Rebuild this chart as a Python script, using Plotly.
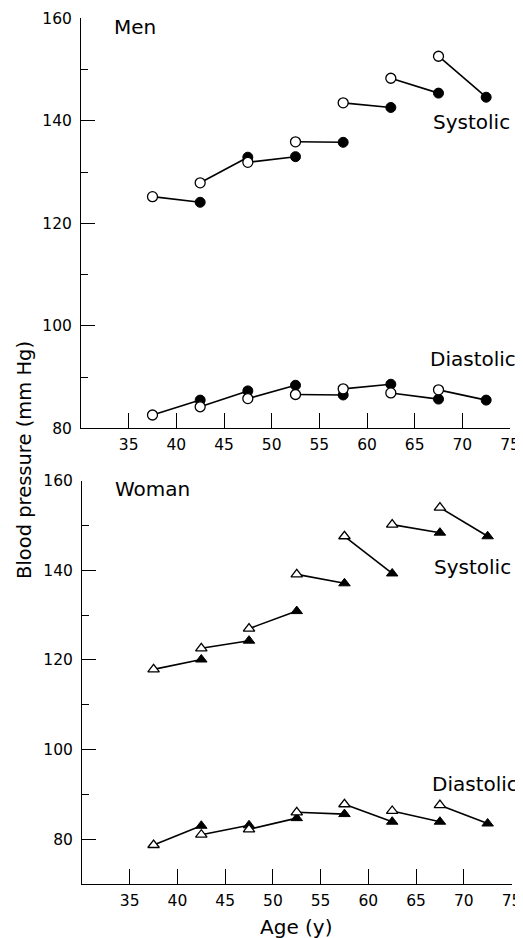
import plotly.graph_objects as go

# ---- data ----
ages_open = [37.5, 42.5, 47.5, 52.5, 57.5, 62.5, 67.5]
ages_filled = [42.5, 47.5, 52.5, 57.5, 62.5, 67.5, 72.5]

men_sys_open = [125.2, 127.9, 131.9, 135.9, 143.5, 148.3, 152.6]
men_sys_filled = [124.1, 132.9, 133.0, 135.8, 142.6, 145.4, 144.6]
men_dia_open = [82.6, 84.2, 85.8, 86.6, 87.7, 86.9, 87.5]
men_dia_filled = [85.5, 87.3, 88.4, 86.5, 88.6, 85.7, 85.5]

women_sys_open = [117.9, 122.6, 127.0, 139.1, 147.6, 150.2, 154.0]
women_sys_filled = [120.1, 124.3, 130.9, 137.1, 139.3, 148.4, 147.6]
women_dia_open = [78.7, 81.0, 82.2, 86.0, 87.8, 86.3, 87.6]
women_dia_filled = [83.0, 83.1, 84.7, 85.6, 83.9, 83.9, 83.5]

x_ticks = [35, 40, 45, 50, 55, 60, 65, 70, 75]
y_ticks = [80, 100, 120, 140, 160]
y_minor_ticks = [90, 110, 130, 150]

FONT = "DejaVu Sans"
INK = "#000000"

fig = go.Figure()


def add_series(open_vals, filled_vals, symbol, xa, ya):
    xs, ys = [], []
    for xo, yo, xf, yf in zip(ages_open, open_vals, ages_filled, filled_vals):
        xs += [xo, xf, None]
        ys += [yo, yf, None]
    fig.add_trace(go.Scatter(x=xs, y=ys, mode="lines", xaxis=xa, yaxis=ya,
                             line=dict(color=INK, width=1.6), showlegend=False))
    fig.add_trace(go.Scatter(x=ages_filled, y=filled_vals, mode="markers",
                             xaxis=xa, yaxis=ya, showlegend=False,
                             marker=dict(symbol=symbol, size=10, color=INK,
                                         line=dict(color=INK, width=1))))
    fig.add_trace(go.Scatter(x=ages_open, y=open_vals, mode="markers",
                             xaxis=xa, yaxis=ya, showlegend=False,
                             marker=dict(symbol=symbol, size=10, color="white",
                                         line=dict(color=INK, width=1.3))))


add_series(men_sys_open, men_sys_filled, "circle", "x", "y")
add_series(men_dia_open, men_dia_filled, "circle", "x", "y")
add_series(women_sys_open, women_sys_filled, "triangle-up", "x2", "y2")
add_series(women_dia_open, women_dia_filled, "triangle-up", "x2", "y2")

# page body has an 8px margin, so the figure is drawn 8px lower/right
OFF = 8
W, H = 523 - OFF, 938 - OFF


def px_x(p):
    return (p - OFF) / W


def px_y(p):
    return 1 - (p - OFF) / H


xcommon = dict(range=[30, 75], tickvals=x_ticks, ticks="inside", ticklen=15,
               tickwidth=1, tickcolor=INK, showline=True, linecolor=INK,
               showgrid=False, automargin=False, ticklabelstandoff=2,
               tickfont=dict(family=FONT, size=15.5, color=INK))
ycommon = dict(tickvals=y_ticks, ticks="inside", ticklen=14, tickwidth=1,
               tickcolor=INK, showline=True, linecolor=INK, showgrid=False,
               automargin=False, ticklabelstandoff=5,
               tickfont=dict(family=FONT, size=15.5, color=INK),
               minor=dict(tickvals=y_minor_ticks, ticks="inside", ticklen=7,
                          tickwidth=1, tickcolor=INK))

fig.update_layout(
    width=W, height=H,
    margin=dict(l=0, r=0, t=0, b=0, autoexpand=False),
    paper_bgcolor="white", plot_bgcolor="white",
    xaxis=dict(domain=[px_x(81), px_x(510)], anchor="y", **xcommon),
    yaxis=dict(domain=[px_y(428.3), px_y(18.3)], anchor="x",
               range=[80, 160], **ycommon),
    xaxis2=dict(domain=[px_x(82), px_x(511.5)], anchor="y2", **xcommon),
    yaxis2=dict(domain=[px_y(884), px_y(480.7)], anchor="x2",
                range=[70, 160], **ycommon),
)

ann_font = dict(family=FONT, size=20, color=INK)
annots = [
    ("Men", 112, 26.5),
    ("Systolic", 431, 122),
    ("Diastolic", 428, 359),
    ("Woman", 113, 489),
    ("Systolic", 432, 567),
    ("Diastolic", 430, 783.5),
]
for txt, pxx, pxy in annots:
    fig.add_annotation(text=txt, x=px_x(pxx), y=px_y(pxy), xref="paper",
                       yref="paper", xanchor="left", yanchor="middle",
                       showarrow=False, font=ann_font)

fig.add_annotation(text="Blood pressure (mm Hg)", x=px_x(24), y=px_y(460),
                   xref="paper", yref="paper", textangle=-90,
                   xanchor="center", yanchor="middle", showarrow=False,
                   font=dict(family=FONT, size=19.5, color=INK))
fig.add_annotation(text="Age (y)", x=px_x(296), y=px_y(927),
                   xref="paper", yref="paper", xanchor="center",
                   yanchor="middle", showarrow=False,
                   font=dict(family=FONT, size=20, color=INK))

fig.write_html("out.html")
